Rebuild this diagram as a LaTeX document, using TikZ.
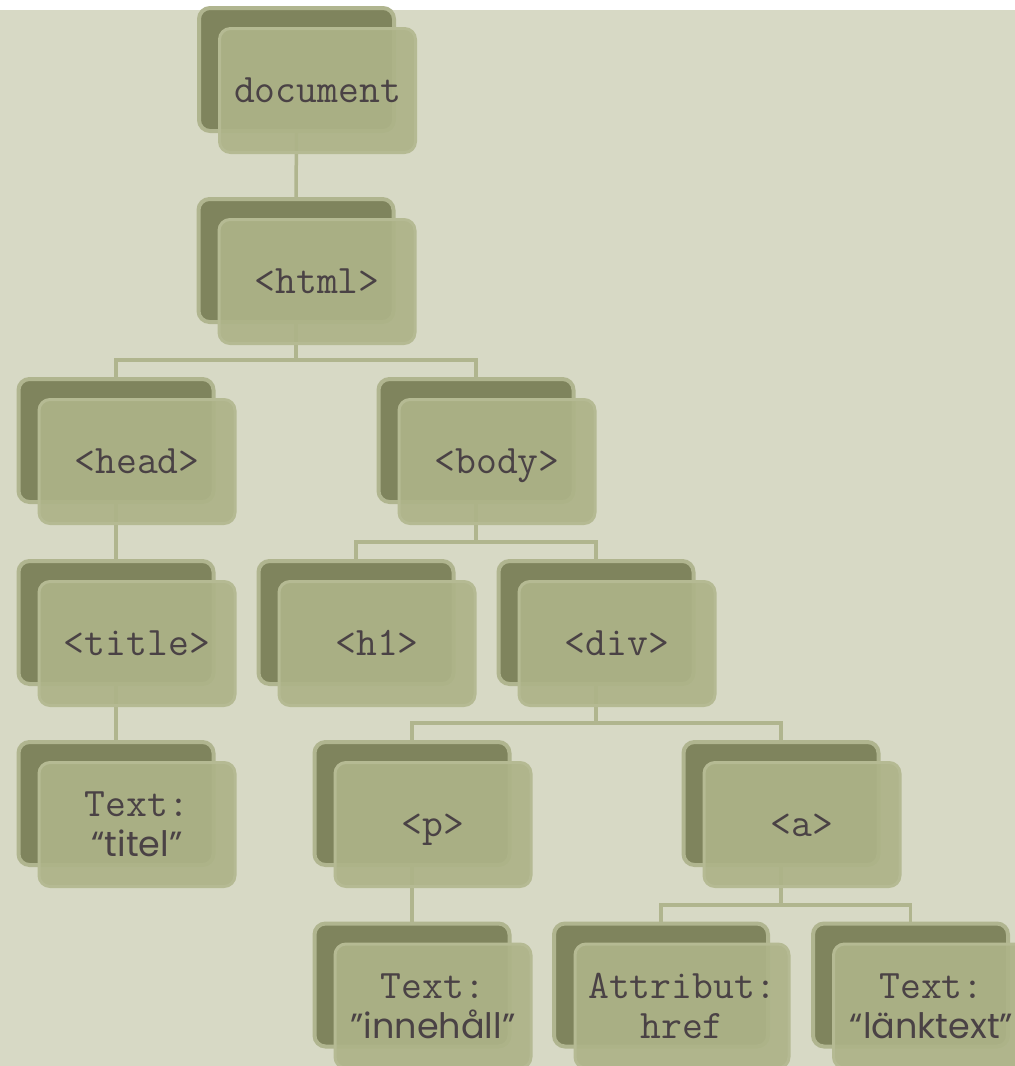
\documentclass[tikz,border=0pt]{standalone}
\usepackage{fontspec}
\newfontfamily\gothfnt{Poppins}
\definecolor{bgc}{HTML}{D7D9C5}
\definecolor{backfill}{HTML}{7F845D}
\definecolor{backedge}{HTML}{B0B58F}
\definecolor{frontfill}{HTML}{ADB388}
\definecolor{frontedge}{HTML}{B5BA93}
\definecolor{connc}{HTML}{B0B58E}
\definecolor{txt}{HTML}{4A4245}
\pgfdeclarelayer{bglayer}
\pgfdeclarelayer{linelayer}
\pgfsetlayers{bglayer,linelayer,main}
\newcommand{\gq}[1]{{\gothfnt\fontsize{35}{40}\selectfont #1}}
\begin{document}
\begin{tikzpicture}[x=1pt,y=-1pt,
  backbox/.style={draw=backedge, line width=4pt, fill=backfill, rounded corners=11pt,
    minimum width=195pt, minimum height=123pt, inner sep=0pt},
  frontbox/.style={draw=frontedge, line width=3pt, fill=frontfill, fill opacity=0.92,
    text opacity=1, rounded corners=11pt, minimum width=196pt, minimum height=124pt,
    inner sep=0pt, text=txt, font=\ttfamily\fontsize{40.5}{40}\selectfont, align=center},
  oneline/.style={text height=24pt, text depth=0pt},
  wide/.style={minimum width=214pt},
  conn/.style={draw=connc, line width=3.5pt}]
\useasboundingbox (0,0) rectangle (1015,1066);
\clip (0,0) rectangle (1015,1066);
\begin{pgfonlayer}{bglayer}
\fill[white] (0,0) rectangle (1015,1066);
\fill[bgc] (0,10) rectangle (1015,1066);
\end{pgfonlayer}
% document
\node[backbox] (docB) at (296.5,69.5) {};
\node[frontbox,oneline] (docF) at (317.5,90.5) {document};
% html
\node[backbox] (htmlB) at (296,260.5) {};
\node[frontbox,oneline] (htmlF) at (317,281.5) {<html>};
% head
\node[backbox] (headB) at (116,440.5) {};
\node[frontbox,oneline] (headF) at (137,461.5) {<head>};
% body
\node[backbox] (bodyB) at (476,440.5) {};
\node[frontbox,oneline] (bodyF) at (497,461.5) {<body>};
% title
\node[backbox] (titleB) at (116,622.5) {};
\node[frontbox,oneline] (titleF) at (137,643.5) {<title>};
% h1
\node[backbox] (hB) at (356,622.5) {};
\node[frontbox,oneline] (hF) at (377,643.5) {<h1>};
% div
\node[backbox] (divB) at (596,622.5) {};
\node[frontbox,oneline] (divF) at (617,643.5) {<div>};
% text titel
\node[backbox] (ttB) at (116,803.5) {};
\node[frontbox] (ttF) at (137,824.5) {Text:\\\gq{“titel”}};
% p
\node[backbox] (pB) at (412,803.5) {};
\node[frontbox,oneline] (pF) at (433,824.5) {<p>};
% a
\node[backbox] (aB) at (781,803.5) {};
\node[frontbox,oneline] (aF) at (802,824.5) {<a>};
% innehall
\node[backbox] (inB) at (412,985) {};
\node[frontbox] (inF) at (433,1006) {Text:\\\gq{”innehåll”}};
% attribut
\node[backbox,wide] (atB) at (661,985) {};
\node[frontbox,wide] (atF) at (682,1006) {Attribut:\\href};
% lanktext
\node[backbox] (lkB) at (910.5,985) {};
\node[frontbox] (lkF) at (931.5,1006) {Text:\\\gq{“länktext”}};
% connectors
\coordinate (htmlJ) at (296,360);
\coordinate (bodyJ) at (476,542);
\coordinate (divJ) at (596,723);
\coordinate (aJ) at (781,905);
\begin{pgfonlayer}{linelayer}
\draw[conn] (docB.south) -- (htmlB.north);
\draw[conn] (htmlB.south) -- (htmlJ) -| (headB.north);
\draw[conn] (htmlJ) -| (bodyB.north);
\draw[conn] (headB.south) -- (titleB.north);
\draw[conn] (titleB.south) -- (ttB.north);
\draw[conn] (bodyB.south) -- (bodyJ) -| (hB.north);
\draw[conn] (bodyJ) -| (divB.north);
\draw[conn] (divB.south) -- (divJ) -| (pB.north);
\draw[conn] (divJ) -| (aB.north);
\draw[conn] (pB.south) -- (inB.north);
\draw[conn] (aB.south) -- (aJ) -| (atB.north);
\draw[conn] (aJ) -| (lkB.north);
\end{pgfonlayer}
\end{tikzpicture}
\end{document}
